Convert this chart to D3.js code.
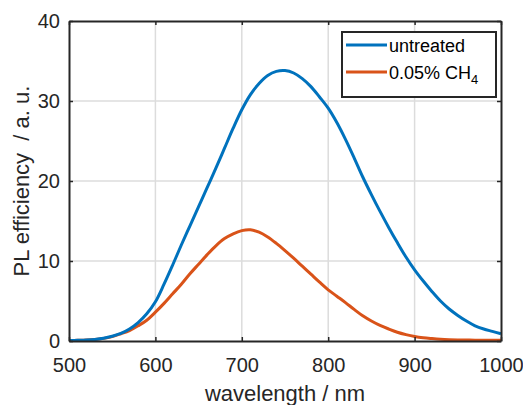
<!DOCTYPE html>
<html>
<head>
<meta charset="utf-8">
<script src="https://cdn.jsdelivr.net/npm/d3@7"></script>
<style>
  body { margin: 0; background: #fff; }
  svg { display: block; font-family: "Liberation Sans", Arial, Helvetica, sans-serif; }
  .axis path, .axis line { stroke: #262626; }
  .axis text { fill: #262626; font-size: 20px; }
</style>
</head>
<body>
<div id="chart"></div>
<script>
// data (nm -> PL efficiency)
var wavelength = d3.range(500, 1001, 10);
var untreated = [0.05, 0.08, 0.12, 0.2, 0.35, 0.6, 0.95, 1.5, 2.3, 3.4,
  4.9, 7.1, 9.5, 12.0, 14.4, 16.8, 19.2, 21.6, 24.1, 26.6,
  28.9, 30.8, 32.2, 33.2, 33.7, 33.8, 33.5, 32.8, 31.8, 30.5,
  29.1, 27.3, 25.2, 22.9, 20.5, 18.3, 16.2, 14.2, 12.3, 10.5,
  8.9, 7.5, 6.2, 5.0, 4.0, 3.2, 2.5, 1.9, 1.5, 1.2, 0.9];
var ch4 = [0.05, 0.08, 0.12, 0.2, 0.33, 0.55, 0.9, 1.3, 1.9, 2.6,
  3.6, 4.7, 5.9, 7.1, 8.4, 9.6, 10.8, 11.9, 12.8, 13.4,
  13.8, 13.9, 13.6, 13.0, 12.2, 11.3, 10.35, 9.35, 8.35, 7.35,
  6.4, 5.6, 4.8, 3.95, 3.15, 2.5, 1.95, 1.5, 1.1, 0.8,
  0.56, 0.4, 0.3, 0.22, 0.17, 0.14, 0.12, 0.1, 0.1, 0.1, 0.1];
var xTicks = [500, 600, 700, 800, 900, 1000];
var yTicks = [0, 10, 20, 30, 40];

var width = 523, height = 405;
var pLeft = 69, pRight = 501, pTop = 21, pBottom = 341;

var svg = d3.select("#chart")
  .append("svg")
  .attr("width", width)
  .attr("height", height);

var x = d3.scaleLinear().domain([500, 1000]).range([pLeft, pRight]);
var y = d3.scaleLinear().domain([0, 40]).range([pBottom, pTop]);

// grid
svg.append("g").selectAll("line").data(xTicks.slice(1, -1)).enter()
  .append("line")
  .attr("x1", d => x(d)).attr("x2", d => x(d))
  .attr("y1", pTop).attr("y2", pBottom)
  .style("stroke", "#dcdcdc").style("stroke-width", 1.5);
svg.append("g").selectAll("line").data(yTicks.slice(1, -1)).enter()
  .append("line")
  .attr("x1", pLeft).attr("x2", pRight)
  .attr("y1", d => y(d)).attr("y2", d => y(d))
  .style("stroke", "#dcdcdc").style("stroke-width", 1.5);

// curves
var line = d3.line().curve(d3.curveCatmullRom.alpha(0.5));
function draw(vals, color) {
  svg.append("path")
    .datum(wavelength.map((w, i) => [x(w), y(vals[i])]))
    .attr("d", line)
    .style("fill", "none")
    .style("stroke", color)
    .style("stroke-width", 3);
}
draw(ch4, "#D95319");
draw(untreated, "#0072BD");

// axes, ticks pointing inward
var fmt = d3.format("d");
var gB = svg.append("g").attr("class", "axis").attr("transform", "translate(0," + pBottom + ")")
  .call(d3.axisBottom(x).tickValues(xTicks).tickFormat(fmt).tickSize(-4).tickPadding(10).tickSizeOuter(0));
var gT = svg.append("g").attr("class", "axis").attr("transform", "translate(0," + pTop + ")")
  .call(d3.axisTop(x).tickValues(xTicks).tickSize(-4).tickFormat("").tickSizeOuter(0));
var gL = svg.append("g").attr("class", "axis").attr("transform", "translate(" + pLeft + ",0)")
  .call(d3.axisLeft(y).tickValues(yTicks).tickFormat(fmt).tickSize(-4).tickPadding(9).tickSizeOuter(0));
var gR = svg.append("g").attr("class", "axis").attr("transform", "translate(" + pRight + ",0)")
  .call(d3.axisRight(y).tickValues(yTicks).tickSize(-4).tickFormat("").tickSizeOuter(0));
svg.selectAll(".axis path").style("stroke-width", 2);
svg.selectAll(".axis line").style("stroke-width", 1.5);
gB.selectAll("text").attr("dy", "0.71em").attr("y", 17);

// axis labels
svg.append("text")
  .attr("x", (pLeft + pRight) / 2).attr("y", 401)
  .attr("text-anchor", "middle")
  .style("font-size", "22px").style("fill", "#262626")
  .text("wavelength / nm");
svg.append("text")
  .attr("transform", "translate(29," + (pTop + pBottom) / 2 + ") rotate(-90)")
  .attr("text-anchor", "middle")
  .style("font-size", "22px").style("fill", "#262626")
  .style("white-space", "pre")
  .text("PL efficiency  / a. u.");

// legend
var leg = svg.append("g");
leg.append("rect")
  .attr("x", 342).attr("y", 32).attr("width", 154).attr("height", 65)
  .style("fill", "#fff").style("stroke", "#262626").style("stroke-width", 2);
var entries = [["untreated", "#0072BD"], ["0.05% CH", "#D95319"]];
entries.forEach(function (e, i) {
  var ly = 45 + i * 27;
  leg.append("line")
    .attr("x1", 346).attr("x2", 387).attr("y1", ly).attr("y2", ly)
    .style("stroke", e[1]).style("stroke-width", 3);
  var t = leg.append("text")
    .attr("x", 389).attr("y", ly + 7)
    .style("font-size", "18px").style("fill", "#000")
    .text(e[0]);
  if (i == 1) {
    t.append("tspan").attr("dy", 5).style("font-size", "13px").text("4");
  }
});
</script>
</body>
</html>
